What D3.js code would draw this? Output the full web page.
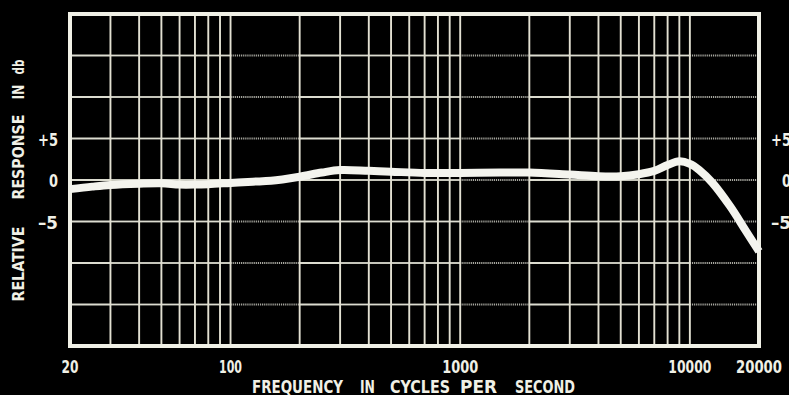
<!DOCTYPE html>
<html><head><meta charset="utf-8">
<script src="https://cdn.jsdelivr.net/npm/d3@7"></script>
<style>html,body{margin:0;padding:0;background:#000;} svg{display:block}</style>
</head><body><svg id="c" width="789" height="395"></svg>
<script>
// ---- data ----
const xTickValues = [20, 100, 1000, 10000, 20000];
const xTickLabels = ["20", "100", "1000", "10000", "20000"];
const yTickValues = [5, 0, -5];
const yTickLabels = ["+5", "0", "\u20135"];
const gridFreqs = [30, 40, 50, 60, 70, 80, 90, 100, 200, 300, 400, 500, 600, 700, 800, 900,
                   1000, 2000, 3000, 4000, 5000, 6000, 7000, 8000, 9000, 10000];
const gridDb = [15, 10, 5, 0, -5, -10, -15];
const freqs = [20, 25, 30, 40, 50, 60, 70, 80, 100, 125, 150, 200, 250, 300, 400, 500, 700,
               1000, 1500, 2000, 3000, 4000, 5000, 6000, 7000, 8000, 9000, 10000, 11000,
               12500, 15000, 17500, 20000];
const response = [-1.1, -0.8, -0.6, -0.45, -0.4, -0.55, -0.55, -0.5, -0.35, -0.2, -0.1, 0.4, 0.9,
                  1.2, 1.1, 1.0, 0.85, 0.85, 0.9, 0.9, 0.65, 0.45, 0.45, 0.7, 1.1, 1.8, 2.25,
                  1.95, 1.2, -0.3, -3.2, -6.1, -8.6];
const xTitleWords = ["FREQUENCY", "IN", "CYCLES", "PER", "SECOND"];
const yTitleWords = ["RELATIVE", "RESPONSE", "IN", "db"];

// ---- layout ----
const svg = d3.select("#c");
const W = 789, H = 395;
const L = 70, R = 759, T = 14, B = 346;
const x = d3.scaleLog().domain([20, 20000]).range([L, R]);
const y = d3.scaleLinear().domain([-20, 20]).range([B, T]);
const FONT = "'Liberation Sans Narrow', 'DejaVu Sans Condensed', sans-serif";
const INK = "#f0f0e6";

svg.append("rect").attr("width", W).attr("height", H).attr("fill", "#000");

// horizontal grid, split in segments between vertical grid lines
const bounds = [20, ...gridFreqs, 20000];
const segs = [];
gridDb.forEach(db => {
  for (let i = 0; i < bounds.length - 1; i++) {
    segs.push({db, a: bounds[i], b: bounds[i + 1], gap: bounds[i + 1] / bounds[i] >= 2});
  }
});
svg.append("g").selectAll("line").data(segs).join("line")
  .attr("x1", d => x(d.a)).attr("x2", d => x(d.b))
  .attr("y1", d => y(d.db)).attr("y2", d => y(d.db))
  .attr("stroke", d => d.gap ? "#a8a8a0" : "#dcdcd0")
  .attr("stroke-width", d => d.gap ? 2.2 : 1.8)
  .attr("stroke-dasharray", d => d.gap ? "1.2 0.9" : null);

// vertical grid
svg.append("g").selectAll("line").data(gridFreqs).join("line")
  .attr("x1", d => x(d)).attr("x2", d => x(d))
  .attr("y1", T).attr("y2", B)
  .attr("stroke", "#e2e0d2").attr("stroke-width", 1.9);

// frame
svg.append("rect").attr("x", L).attr("y", T).attr("width", R - L).attr("height", B - T)
  .attr("fill", "none").attr("stroke", INK).attr("stroke-width", 4);

// response curve
const line = d3.line().x((d, i) => x(freqs[i])).y(d => y(d)).curve(d3.curveCatmullRom.alpha(0.5));
svg.append("path").datum(response).attr("d", line)
  .attr("fill", "none").attr("stroke", "#f4f4ee").attr("stroke-width", 8)
  .attr("stroke-linecap", "butt").attr("stroke-linejoin", "round");

// x tick labels
const xTickWidth = [17, 23, 36, 43, 46];
svg.append("g").selectAll("text").data(xTickValues).join("text")
  .attr("x", d => x(d)).attr("y", 373)
  .attr("text-anchor", "middle").attr("fill", INK)
  .attr("font-family", FONT).attr("font-weight", "bold").attr("font-size", 17)
  .attr("textLength", (d, i) => xTickWidth[i]).attr("lengthAdjust", "spacingAndGlyphs")
  .text((d, i) => xTickLabels[i]);

// y tick labels, left and right
const yTickWidth = [20, 9, 20];
[{xp: 58}, {xp: 791}].forEach(s => {
  svg.append("g").selectAll("text").data(yTickValues).join("text")
    .attr("x", s.xp).attr("y", d => y(d) + 7)
    .attr("text-anchor", "end").attr("fill", INK)
    .attr("font-family", FONT).attr("font-weight", "bold").attr("font-size", 17)
    .attr("textLength", (d, i) => yTickWidth[i]).attr("lengthAdjust", "spacingAndGlyphs")
    .text((d, i) => yTickLabels[i]);
});

// x title (word positions along the baseline)
const xWordPos = [[252, 91], [360, 15], [390, 60], [460, 37], [515, 60]];
svg.append("g").selectAll("text").data(xTitleWords).join("text")
  .attr("x", (d, i) => xWordPos[i][0]).attr("y", 393)
  .attr("textLength", (d, i) => xWordPos[i][1]).attr("lengthAdjust", "spacingAndGlyphs")
  .attr("fill", INK).attr("font-family", FONT).attr("font-weight", "bold").attr("font-size", 17)
  .text(d => d);

// y title (rotated)
const yWordPos = [[264, 75], [157, 85], [92, 15], [67, 15]];
svg.append("g").selectAll("text").data(yTitleWords).join("text")
  .attr("transform", (d, i) => `translate(24,${yWordPos[i][0]}) rotate(-90)`)
  .attr("text-anchor", "middle")
  .attr("textLength", (d, i) => yWordPos[i][1]).attr("lengthAdjust", "spacingAndGlyphs")
  .attr("fill", INK).attr("font-family", FONT).attr("font-weight", "bold").attr("font-size", 15)
  .text(d => d);
</script>
</body></html>
